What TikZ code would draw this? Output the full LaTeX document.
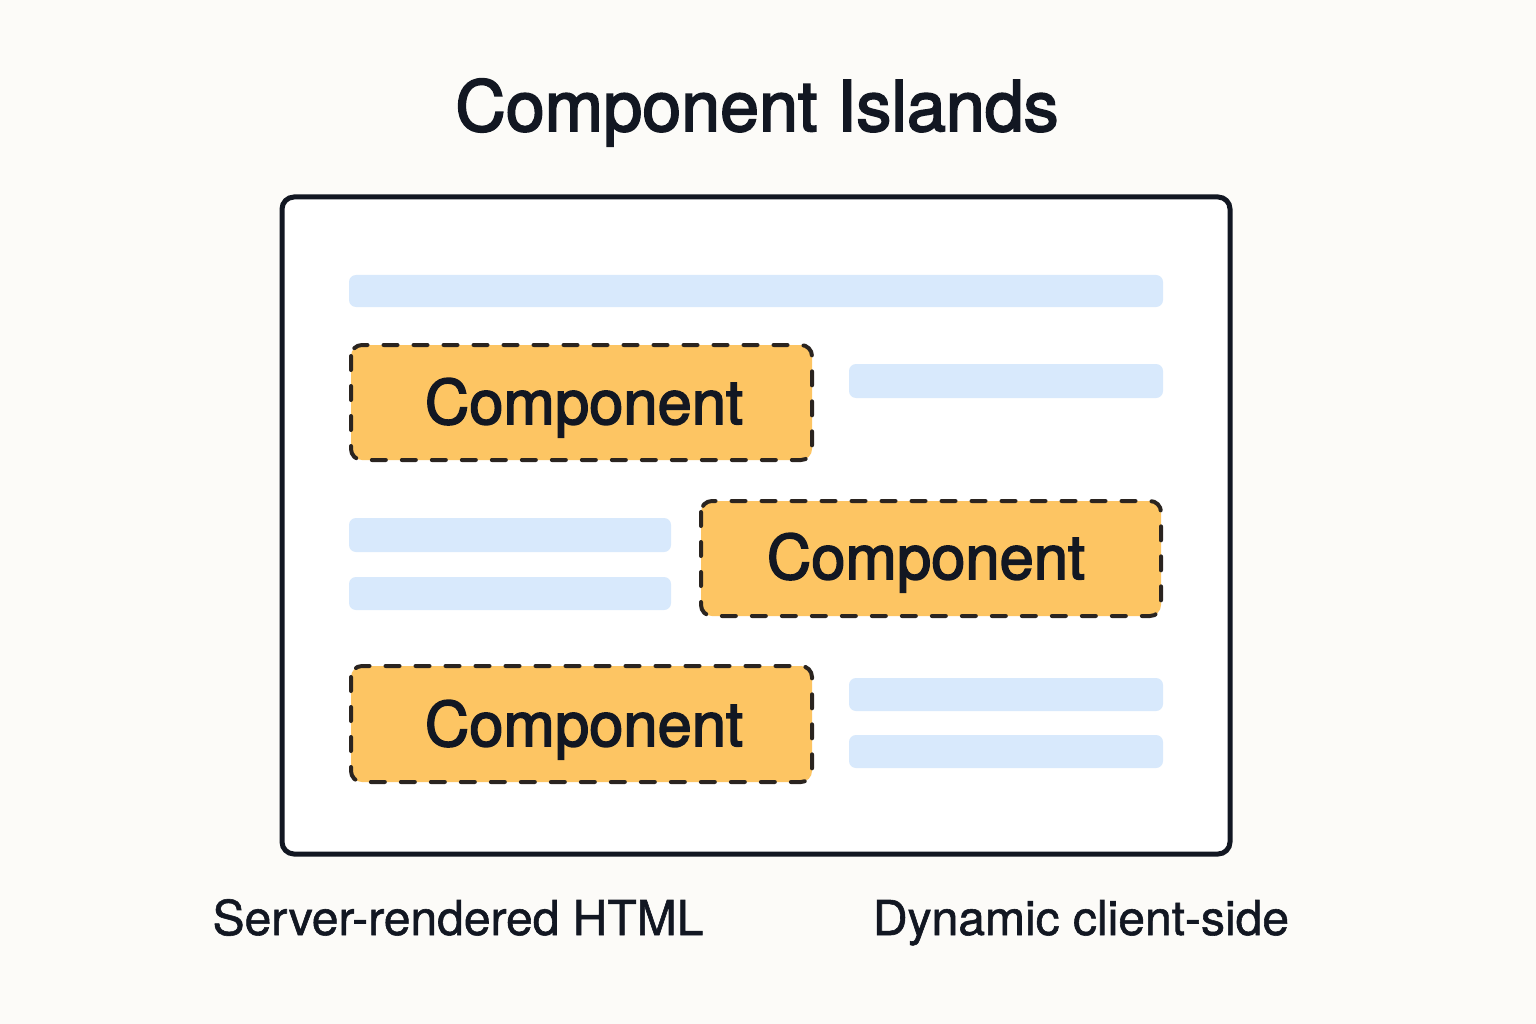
\documentclass[tikz,border=0pt]{standalone}
\usepackage{fontspec}
\setmainfont{TeX Gyre Heros}
\newfontface\medfont{TeX Gyre Heros}[FakeBold=2.5]
\newfontface\capfont{TeX Gyre Heros}[FakeBold=1.2]
\definecolor{bgc}{HTML}{FCFBF8}
\definecolor{ink}{HTML}{121722}
\definecolor{barc}{HTML}{D8E9FC}
\definecolor{orc}{HTML}{FDC563}
\definecolor{dashc}{HTML}{2A2420}
\begin{document}
\begin{tikzpicture}[x=1pt,y=-1pt,
  bar/.style={fill=barc,draw=none,rounded corners=7pt},
  island/.style={fill=orc,draw=dashc,line width=4pt,line cap=round,dash pattern=on 14pt off 16pt,rounded corners=11pt},
  islandtext/.style={text=ink,anchor=base,font=\medfont\fontsize{61.5}{70}\selectfont},
  caption/.style={text=ink,anchor=base,font=\capfont\fontsize{48}{56}\selectfont}]
\useasboundingbox[fill=bgc] (0,0) rectangle (1536,1024);
\node[text=ink,anchor=base,font=\medfont\fontsize{70}{80}\selectfont] (title) at (757,131) {Component Islands};
\draw[draw=ink,fill=white,line width=5pt,rounded corners=12pt] (282,197) rectangle (1230,854);
\fill[bar] (349,275) rectangle (1163,307);
\fill[bar] (849,364) rectangle (1163,398);
\fill[bar] (349,518) rectangle (671,552);
\fill[bar] (349,577) rectangle (671,610);
\fill[bar] (849,678) rectangle (1163,711);
\fill[bar] (849,735) rectangle (1163,768);
\draw[island] (351,345) rectangle (812,460);
\draw[island] (701,501) rectangle (1161,616);
\draw[island] (351,666) rectangle (812,782);
\node[islandtext] (c1) at (584,424) {Component};
\node[islandtext] (c2) at (926,579) {Component};
\node[islandtext] (c3) at (584,746) {Component};
\node[caption] (srv) at (458,935) {Server-rendered HTML};
\node[caption] (dyn) at (1081,935) {Dynamic client-side};
\end{tikzpicture}
\end{document}
